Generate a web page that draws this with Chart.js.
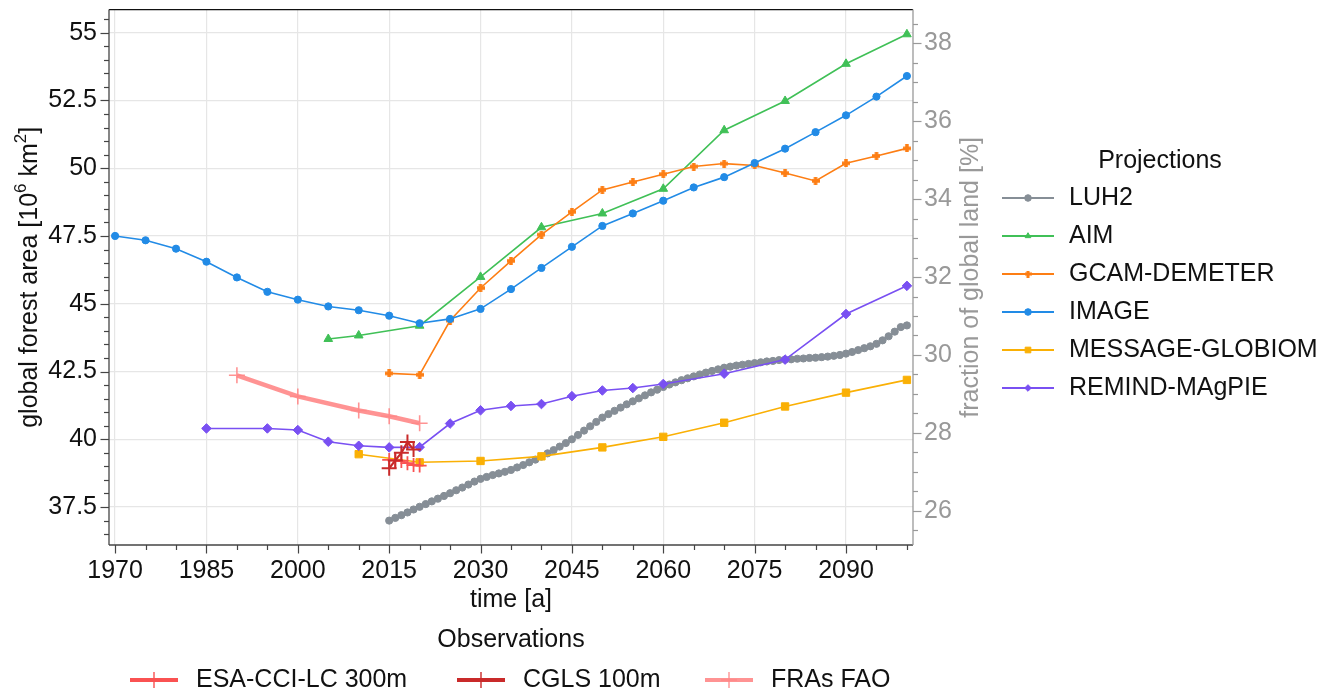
<!DOCTYPE html>
<html>
<head>
<meta charset="utf-8">
<title>Global forest area</title>
<script src="https://cdn.jsdelivr.net/npm/chart.js@4.4.1/dist/chart.umd.min.js"></script>
<style>
  html, body { margin: 0; background: #fff; }
  #wrap { width: 1344px; height: 694px; position: relative; }
</style>
</head>
<body>
<div id="wrap"><canvas id="chart"></canvas></div>
<script>
// global land area (10^6 km²) used for the percent axis
const LAND_AREA = 143.7;

// tick labels
const xTickLabels = [1970, 1985, 2000, 2015, 2030, 2045, 2060, 2075, 2090];
const yTickLabels = [37.5, 40, 42.5, 45, 47.5, 50, 52.5, 55];
const y2TickLabels = [26, 28, 30, 32, 34, 36, 38];

// projections
const luh2Years = [
  2015, 2016, 2017, 2018, 2019, 2020, 2021, 2022, 2023, 2024,
  2025, 2026, 2027, 2028, 2029, 2030, 2031, 2032, 2033, 2034,
  2035, 2036, 2037, 2038, 2039, 2040, 2041, 2042, 2043, 2044,
  2045, 2046, 2047, 2048, 2049, 2050, 2051, 2052, 2053, 2054,
  2055, 2056, 2057, 2058, 2059, 2060, 2061, 2062, 2063, 2064,
  2065, 2066, 2067, 2068, 2069, 2070, 2071, 2072, 2073, 2074,
  2075, 2076, 2077, 2078, 2079, 2080, 2081, 2082, 2083, 2084,
  2085, 2086, 2087, 2088, 2089, 2090, 2091, 2092, 2093, 2094,
  2095, 2096, 2097, 2098, 2099, 2100
];
const luh2Values = [
  37.00, 37.10, 37.20, 37.30, 37.41, 37.51, 37.61, 37.71, 37.81, 37.91,
  38.01, 38.12, 38.22, 38.33, 38.44, 38.54, 38.61, 38.68, 38.74, 38.80,
  38.87, 38.96, 39.05, 39.15, 39.25, 39.36, 39.48, 39.60, 39.73, 39.86,
  40.00, 40.16, 40.32, 40.48, 40.64, 40.80, 40.93, 41.05, 41.17, 41.29,
  41.40, 41.51, 41.62, 41.73, 41.83, 41.93, 42.02, 42.10, 42.18, 42.25,
  42.32, 42.39, 42.46, 42.52, 42.58, 42.64, 42.68, 42.72, 42.75, 42.78,
  42.81, 42.84, 42.87, 42.89, 42.92, 42.94, 42.95, 42.97, 42.98, 43.00,
  43.01, 43.03, 43.05, 43.08, 43.11, 43.16, 43.22, 43.29, 43.36, 43.43,
  43.52, 43.65, 43.80, 43.97, 44.14, 44.20
];

const aimYears = [2005, 2010, 2020, 2030, 2040, 2050, 2060, 2070, 2080, 2090, 2100];
const aimValues = [43.70, 43.83, 44.19, 45.99, 47.82, 48.33, 49.24, 51.40, 52.48, 53.85, 54.94];

const gcamYears = [2015, 2020, 2025, 2030, 2035, 2040, 2045, 2050, 2055, 2060,
  2065, 2070, 2075, 2080, 2085, 2090, 2095, 2100];
const gcamValues = [42.43, 42.38, 44.38, 45.58, 46.58, 47.55, 48.39, 49.20, 49.49, 49.78,
  50.06, 50.17, 50.10, 49.82, 49.53, 50.18, 50.45, 50.73];

const imageYears = [1970, 1975, 1980, 1985, 1990, 1995, 2000, 2005, 2010, 2015,
  2020, 2025, 2030, 2035, 2040, 2045, 2050, 2055, 2060, 2065,
  2070, 2075, 2080, 2085, 2090, 2095, 2100];
const imageValues = [47.50, 47.34, 47.03, 46.55, 45.97, 45.44, 45.15, 44.90, 44.76, 44.56,
  44.28, 44.44, 44.81, 45.54, 46.32, 47.10, 47.87, 48.33, 48.80, 49.29,
  49.67, 50.19, 50.72, 51.33, 51.95, 52.64, 53.40];

const messageYears = [2010, 2020, 2030, 2040, 2050, 2060, 2070, 2080, 2090, 2100];
const messageValues = [39.45, 39.15, 39.20, 39.37, 39.70, 40.09, 40.61, 41.21, 41.72, 42.19];

const remindYears = [1985, 1995, 2000, 2005, 2010, 2015, 2020, 2025, 2030, 2035,
  2040, 2045, 2050, 2055, 2060, 2070, 2080, 2090, 2100];
const remindValues = [40.40, 40.40, 40.34, 39.91, 39.76, 39.70, 39.71, 40.58, 41.07, 41.23,
  41.30, 41.59, 41.80, 41.89, 42.04, 42.42, 42.94, 44.62, 45.66];

// observations
const esaYears = [2015, 2016, 2017, 2018, 2019, 2020];
const esaValues = [39.24, 39.22, 39.20, 39.12, 39.05, 39.03];

const cglsYears = [2015, 2016, 2017, 2018, 2019];
const cglsValues = [38.93, 39.22, 39.50, 39.90, 39.62];

const fraYears = [1990, 2000, 2010, 2015, 2020];
const fraValues = [42.36, 41.58, 41.06, 40.85, 40.59];

const FONT = '"Liberation Sans", Arial, Helvetica, sans-serif';

// filled plus marker (like matplotlib "P")
function plusMarker(color, s) {
  const c = document.createElement('canvas');
  c.width = c.height = s;
  const g = c.getContext('2d');
  g.fillStyle = color;
  const t = s * 0.44;
  g.fillRect((s - t) / 2, 0, t, s);
  g.fillRect(0, (s - t) / 2, s, t);
  return c;
}

function series(label, years, values, style) {
  return Object.assign({
    label,
    data: years.map((x, i) => ({ x, y: values[i] })),
    backgroundColor: style.borderColor,
    pointBackgroundColor: style.borderColor,
    pointBorderColor: style.borderColor,
    borderWidth: 1.6,
    pointBorderWidth: 1,
    tension: 0,
    yAxisID: 'y'
  }, style);
}

const C = {
  luh2: '#868e96', aim: '#40c057', gcam: '#fd7e14', image: '#228be6',
  message: '#fab005', remind: '#7950f2',
  esa: '#fa5252', cgls: '#c92a2a', fra: '#ff8787'
};

const datasets = [
  series('LUH2', luh2Years, luh2Values, { borderColor: C.luh2, pointStyle: 'circle', pointRadius: 3.6, order: 8, group: 'proj' }),
  series('AIM', aimYears, aimValues, { borderColor: C.aim, pointStyle: 'triangle', pointRadius: 5, order: 7, group: 'proj' }),
  series('GCAM-DEMETER', gcamYears, gcamValues, { borderColor: C.gcam, pointStyle: plusMarker(C.gcam, 8), legendStyle: plusMarker(C.gcam, 7), pointRadius: 4, order: 6, group: 'proj' }),
  series('IMAGE', imageYears, imageValues, { borderColor: C.image, pointStyle: 'circle', pointRadius: 3.6, order: 5, group: 'proj' }),
  series('MESSAGE-GLOBIOM', messageYears, messageValues, { borderColor: C.message, pointStyle: 'rect', pointRadius: 5.2, order: 4, group: 'proj' }),
  series('REMIND-MAgPIE', remindYears, remindValues, { borderColor: C.remind, pointStyle: 'rectRot', pointRadius: 4.8, order: 3, group: 'proj' }),
  series('ESA-CCI-LC 300m', esaYears, esaValues, { borderColor: C.esa, pointStyle: 'cross', pointRadius: 7, pointBorderWidth: 1.8, borderWidth: 2, order: 1, group: 'obs' }),
  series('CGLS 100m', cglsYears, cglsValues, { borderColor: C.cgls, pointStyle: 'cross', pointRadius: 7.5, pointBorderWidth: 2, borderWidth: 2.2, order: 0, group: 'obs' }),
  series('FRAs FAO', fraYears, fraValues, { borderColor: 'rgba(255,135,135,0.9)', pointStyle: 'cross', pointRadius: 8, pointBorderWidth: 1.6, borderWidth: 4.5, order: 2, group: 'obs' })
];

const Y_MIN = 36.1, Y_MAX = 55.85;

function near(list, v) {
  return list.some(m => Math.abs(m - v) < 1e-6);
}

function stepTicks(min, max, step) {
  const out = [];
  for (let k = Math.ceil(min / step - 1e-9); k * step <= max + 1e-9; k++) {
    out.push({ value: +(k * step).toFixed(6) });
  }
  return out;
}

// keep the plot box where it is: no extra room for label overhang
function noPadding(s) {
  s.paddingTop = 0;
  s.paddingBottom = 0;
  s.paddingLeft = 0;
  s.paddingRight = 0;
}

// frame, tick marks, axis titles and the two legends
const decor = {
  id: 'decor',
  afterDraw(chart) {
    const { ctx, chartArea: a, scales } = chart;
    ctx.save();

    // tick marks
    const marks = (scale, majors, side, color) => {
      ctx.strokeStyle = color;
      ctx.lineWidth = 1.2;
      scale.ticks.forEach(t => {
        const len = near(majors, t.value) ? 8.5 : 5;
        const p = Math.round(scale.getPixelForValue(t.value)) + 0.5;
        ctx.beginPath();
        if (side === 'bottom') { ctx.moveTo(p, a.bottom); ctx.lineTo(p, a.bottom + len); }
        if (side === 'left') { ctx.moveTo(a.left, p); ctx.lineTo(a.left - len, p); }
        if (side === 'right') { ctx.moveTo(a.right, p); ctx.lineTo(a.right + len, p); }
        ctx.stroke();
      });
    };
    marks(scales.x, xTickLabels, 'bottom', '#444');
    marks(scales.y, yTickLabels, 'left', '#444');
    marks(scales.y2, y2TickLabels, 'right', '#999');

    // frame
    ctx.lineWidth = 1.3;
    const edge = (x1, y1, x2, y2, c) => {
      ctx.strokeStyle = c;
      ctx.beginPath(); ctx.moveTo(x1, y1); ctx.lineTo(x2, y2); ctx.stroke();
    };
    edge(a.left, a.top, a.right, a.top, '#111');
    edge(a.left, a.top, a.left, a.bottom, '#444');
    edge(a.left, a.bottom, a.right, a.bottom, '#444');
    edge(a.right, a.top, a.right, a.bottom, '#999');

    const midY = (a.top + a.bottom) / 2;
    const midX = (a.left + a.right) / 2;

    // left title with superscripts
    const parts = [['global forest area [10', 0], ['6', 1], [' km', 0], ['2', 1], [']', 0]];
    ctx.save();
    ctx.translate(30, midY);
    ctx.rotate(-Math.PI / 2);
    ctx.fillStyle = '#111';
    ctx.textBaseline = 'middle';
    ctx.textAlign = 'left';
    const fontFor = sup => (sup ? '17px ' : '25px ') + FONT;
    let total = 0;
    parts.forEach(([s, sup]) => { ctx.font = fontFor(sup); total += ctx.measureText(s).width; });
    let px = -total / 2;
    parts.forEach(([s, sup]) => {
      ctx.font = fontFor(sup);
      ctx.fillText(s, px, sup ? -9 : 0);
      px += ctx.measureText(s).width;
    });
    ctx.restore();

    // right title
    ctx.save();
    ctx.translate(971, midY);
    ctx.rotate(-Math.PI / 2);
    ctx.fillStyle = '#999';
    ctx.font = '25px ' + FONT;
    ctx.textAlign = 'center';
    ctx.textBaseline = 'middle';
    ctx.fillText('fraction of global land [%]', 0, 0);
    ctx.restore();

    // x title
    ctx.fillStyle = '#111';
    ctx.font = '25px ' + FONT;
    ctx.textAlign = 'center';
    ctx.textBaseline = 'middle';
    ctx.fillText('time [a]', midX, 600);

    const sample = (ds, x0, x1, y, lw, r, bw) => {
      ctx.strokeStyle = ds.borderColor;
      ctx.lineWidth = lw;
      ctx.beginPath(); ctx.moveTo(x0, y); ctx.lineTo(x1, y); ctx.stroke();
      ctx.fillStyle = ds.borderColor;
      ctx.lineWidth = bw;
      Chart.helpers.drawPoint(ctx, {
        pointStyle: ds.legendStyle || ds.pointStyle, rotation: 0, radius: r, borderWidth: bw
      }, (x0 + x1) / 2, y);
    };

    // projections legend
    ctx.fillStyle = '#111';
    ctx.fillText('Projections', 1160, 161);
    ctx.textAlign = 'left';
    datasets.filter(d => d.group === 'proj').forEach((ds, i) => {
      const y = 198 + i * 38;
      sample(ds, 1002, 1054, y, 2, ds.pointStyle === 'rect' ? 4 : 3.3, 1);
      ctx.fillStyle = '#111';
      ctx.fillText(ds.label, 1069, y);
    });

    // observations legend
    ctx.textAlign = 'center';
    ctx.fillText('Observations', midX, 640);
    ctx.textAlign = 'left';
    const obsX = [130, 457, 705];
    datasets.filter(d => d.group === 'obs').forEach((ds, i) => {
      const x0 = obsX[i];
      sample(ds, x0, x0 + 48, 680, 4, 8, 1.4);
      ctx.fillStyle = '#111';
      ctx.fillText(ds.label, x0 + 66, 680);
    });

    ctx.restore();
  }
};

new Chart(document.getElementById('chart'), {
  type: 'line',
  data: { datasets },
  options: {
    responsive: true,
    maintainAspectRatio: false,
    animation: false,
    devicePixelRatio: 1,
    events: [],
    layout: { padding: { top: 7, left: 0, right: 0, bottom: 0 } },
    plugins: { legend: { display: false }, tooltip: { enabled: false } },
    scales: {
      x: {
        type: 'linear',
        min: 1969,
        max: 2101,
        afterBuildTicks: s => { s.ticks = stepTicks(1970, 2100, 5); },
        afterFit: s => { s.height = 149; noPadding(s); },
        border: { display: false },
        grid: {
          drawTicks: false,
          lineWidth: 1.2,
          color: c => near(xTickLabels, c.tick.value) ? '#e6e6e6' : 'rgba(0,0,0,0)'
        },
        ticks: {
          autoSkip: false,
          maxRotation: 0,
          padding: 11,
          color: '#111',
          font: { family: FONT, size: 25 },
          callback: v => near(xTickLabels, v) ? String(v) : ''
        }
      },
      y: {
        position: 'left',
        min: Y_MIN,
        max: Y_MAX,
        afterBuildTicks: s => { s.ticks = stepTicks(Y_MIN, Y_MAX, 0.5); },
        afterFit: s => { s.width = 109; noPadding(s); },
        border: { display: false },
        grid: {
          drawTicks: false,
          lineWidth: 1.2,
          color: c => near(yTickLabels, c.tick.value) ? '#e6e6e6' : 'rgba(0,0,0,0)'
        },
        ticks: {
          autoSkip: false,
          padding: 12,
          color: '#111',
          font: { family: FONT, size: 25 },
          callback: v => near(yTickLabels, v) ? String(v) : ''
        }
      },
      y2: {
        position: 'right',
        min: Y_MIN / LAND_AREA * 100,
        max: Y_MAX / LAND_AREA * 100,
        afterBuildTicks: s => { s.ticks = stepTicks(s.min, s.max, 0.5); },
        afterFit: s => { s.width = 431; noPadding(s); },
        border: { display: false },
        grid: { display: false, drawTicks: false },
        ticks: {
          autoSkip: false,
          padding: 11,
          color: '#999',
          font: { family: FONT, size: 25 },
          callback: v => near(y2TickLabels, v) ? String(v) : ''
        }
      }
    }
  },
  plugins: [decor]
});
</script>
</body>
</html>
